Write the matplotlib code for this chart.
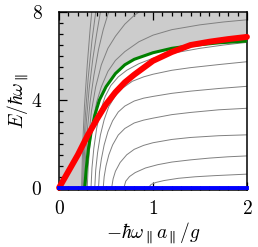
import matplotlib
matplotlib.use("Agg")
import matplotlib.pyplot as plt
from matplotlib.ticker import MultipleLocator

plt.rcParams['mathtext.fontset'] = 'cm'
plt.rcParams['font.family'] = 'serif'

# levels E_n(x) (x = -hbar w a / g, E in units of hbar w)
level_x = [
    [0.95, 0.98, 1.03, 1.12, 1.27, 1.45, 1.65, 1.85, 2.0],
    [0.69, 0.71, 0.75, 0.81, 0.92, 1.05, 1.2, 1.4, 1.6, 1.8, 2.0],
    [0.56, 0.575, 0.6, 0.65, 0.72, 0.8, 0.9, 1.0, 1.2, 1.4, 1.7, 2.0],
    [0.47, 0.48, 0.5, 0.53, 0.57, 0.63, 0.7, 0.8, 0.9, 1.0, 1.2, 1.4, 1.7, 2.0],
    [0.42, 0.43, 0.45, 0.48, 0.52, 0.57, 0.63, 0.7, 0.8, 0.9, 1.0, 1.2, 1.4, 1.7, 2.0],
    [0.38, 0.39, 0.41, 0.44, 0.48, 0.53, 0.6, 0.68, 0.78, 0.9, 1.0, 1.2, 1.4, 1.7, 2.0],
    [0.34, 0.35, 0.37, 0.4, 0.44, 0.49, 0.55, 0.63, 0.72, 0.85, 1.0, 1.2, 1.5, 1.75, 2.0],
    [0.30, 0.31, 0.33, 0.36, 0.4, 0.45, 0.52, 0.6, 0.7, 0.85, 1.0, 1.2, 1.5, 1.75, 2.0],
    [0.285, 0.295, 0.315, 0.345, 0.39, 0.45, 0.52, 0.6, 0.7, 0.8, 0.9],
    [0.27, 0.28, 0.3, 0.33, 0.37, 0.42, 0.47, 0.52, 0.57],
    [0.26, 0.27, 0.29, 0.32, 0.36, 0.4, 0.44, 0.48],
    [0.25, 0.26, 0.28, 0.31, 0.35, 0.39, 0.42],
    [0.24, 0.25, 0.27, 0.3, 0.33, 0.35, 0.37],
]
level_e = [
    [0.0, 0.15, 0.24, 0.33, 0.43, 0.50, 0.55, 0.59, 0.62],
    [0.0, 0.30, 0.51, 0.69, 0.90, 1.05, 1.17, 1.27, 1.35, 1.41, 1.45],
    [0.0, 0.4, 0.75, 1.15, 1.5, 1.75, 1.93, 2.05, 2.2, 2.29, 2.37, 2.41],
    [0.0, 0.5, 1.0, 1.5, 1.95, 2.4, 2.7, 2.95, 3.08, 3.17, 3.33, 3.43, 3.55, 3.62],
    [0.0, 0.7, 1.3, 1.95, 2.55, 3.05, 3.45, 3.72, 3.95, 4.08, 4.16, 4.3, 4.4, 4.52, 4.62],
    [0.0, 0.8, 1.6, 2.4, 3.1, 3.7, 4.2, 4.55, 4.85, 5.05, 5.17, 5.35, 5.47, 5.61, 5.74],
    [0.0, 0.9, 1.8, 2.7, 3.5, 4.15, 4.65, 5.05, 5.35, 5.65, 5.9, 6.12, 6.35, 6.5, 6.62],
    [0.0, 1.0, 2.0, 3.0, 3.9, 4.6, 5.3, 5.8, 6.2, 6.65, 6.95, 7.2, 7.42, 7.55, 7.65],
    [0.0, 1.1, 2.3, 3.5, 4.6, 5.6, 6.35, 6.9, 7.45, 7.85, 8.15],
    [0.0, 1.3, 2.6, 3.9, 5.1, 6.3, 7.2, 7.9, 8.5],
    [0.0, 1.5, 3.0, 4.5, 5.9, 7.0, 8.0, 8.8],
    [0.0, 1.6, 3.3, 5.0, 6.7, 8.0, 8.8],
    [0.0, 1.8, 3.7, 5.6, 7.2, 8.1, 8.9],
]

# green threshold curve (gray = above it)
green_x = [0.273, 0.29, 0.31, 0.34, 0.38, 0.43, 0.5, 0.6, 0.7, 0.8, 1.0, 1.2, 1.4, 1.7, 2.0]
green_e = [0.0, 0.9, 1.7, 2.5, 3.3, 4.0, 4.6, 5.2, 5.6, 5.85, 6.15, 6.35, 6.47, 6.6, 6.68]

# red curve
red_x = [0.0, 0.1, 0.2, 0.3, 0.4, 0.5, 0.6, 0.7, 0.8, 1.0, 1.2, 1.4, 1.6, 1.8, 2.0]
red_e = [0.0, 0.75, 1.5, 2.35, 3.1, 3.8, 4.35, 4.8, 5.15, 5.78, 6.18, 6.5, 6.65, 6.77, 6.87]

# blue ground line
blue_x = [0.0, 2.0]
blue_e = [0.0, 0.0]

fig = plt.figure(figsize=(2.58, 2.47), dpi=100)
ax = fig.add_axes([0.229, 0.231, 0.728, 0.72])

ax.fill_between([0.0] + green_x, [0.0] + green_e, 8.0, color='#cccccc', lw=0, zorder=1)
for lx, le in zip(level_x, level_e):
    ax.plot(lx, le, color='#808080', lw=0.7, zorder=2)
ax.plot(green_x, green_e, color='#008000', lw=2.2, zorder=3)
ax.plot(red_x, red_e, color='#ff0000', lw=4.3, zorder=4, clip_on=False, solid_capstyle='round')
ax.plot(blue_x, blue_e, color='#0000ff', lw=2.8, zorder=5, clip_on=False)

ax.set_xlim(0, 2)
ax.set_ylim(-0.1, 8)
ax.xaxis.set_minor_locator(MultipleLocator(0.1))
ax.yaxis.set_minor_locator(MultipleLocator(0.5))
ax.set_xticks([0, 1, 2])
ax.set_xticklabels(['$0$', '$1$', '$2$'])
ax.set_yticks([0, 4, 8])
ax.set_yticklabels(['$0$', '$4$', '$8$'])
ax.tick_params(which='both', direction='in', top=True, right=False, labelsize=14, width=0.9)
ax.tick_params(which='major', length=6)
ax.tick_params(which='minor', length=3)
ax.tick_params(axis='y', pad=12)
ax.tick_params(axis='x', pad=7)
for s in ax.spines.values():
    s.set_linewidth(1.1)

ax.set_xlabel(r'$-\hbar\omega_\parallel a_\parallel/g$', fontsize=14, labelpad=2)
ax.set_ylabel(r'$E/\hbar\omega_\parallel$', fontsize=14, labelpad=0)

fig.savefig('out.png', dpi=100)
